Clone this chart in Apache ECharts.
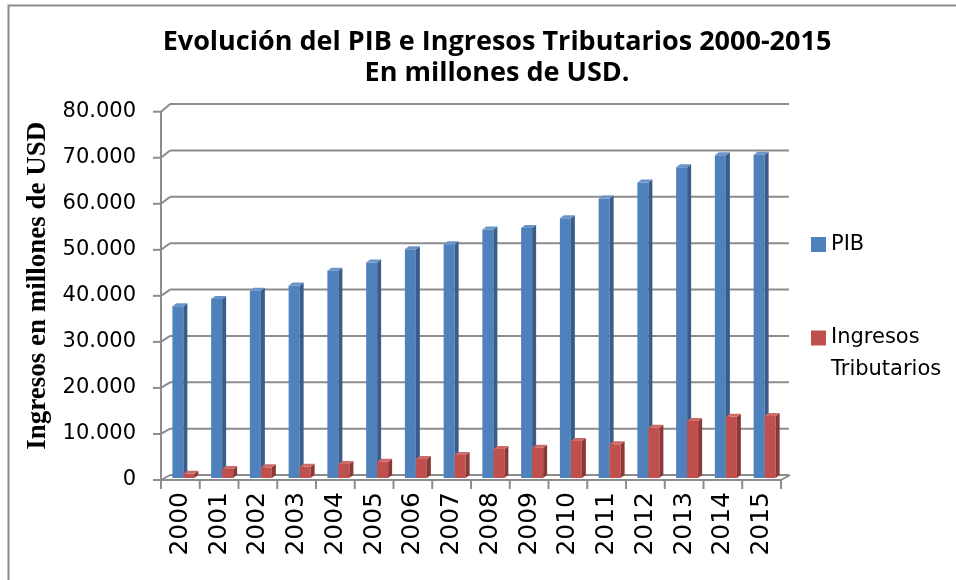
<!DOCTYPE html>
<html>
<head>
<meta charset="utf-8">
<script src="https://cdn.jsdelivr.net/npm/echarts@6/dist/echarts.min.js"></script>
<style>html,body{margin:0;padding:0;background:#fff}#c{width:956px;height:580px}</style>
</head>
<body>
<div id="c"></div>
<script>
const years = ['2000','2001','2002','2003','2004','2005','2006','2007','2008','2009','2010','2011','2012','2013','2014','2015'];
const pib = [37300, 38900, 40700, 41800, 45000, 46800, 49700, 50800, 54000, 54300, 56400, 60700, 64200, 67500, 70100, 70200];
const ingresos = [900, 1950, 2320, 2450, 3040, 3540, 4130, 4990, 6300, 6580, 8030, 7320, 10920, 12380, 13310, 13460];
const yTicks = [0, 10000, 20000, 30000, 40000, 50000, 60000, 70000, 80000];

const chart = echarts.init(document.getElementById('c'), null, {renderer: 'canvas'});
const GRID = '#8c8c8c';

function barRenderer(offset, front, side, topc) {
  return function (params, api) {
    const idx = api.value(0), v = api.value(1);
    const t = api.coord([idx, v]);
    const b = api.coord([idx, 0]);
    const w = 11, d = 4, e = 3;
    const x0 = t[0] + offset;
    const yT = t[1] - 2, yB = b[1] - 2;
    return {
      type: 'group',
      children: [
        {type: 'rect', shape: {x: x0, y: yT, width: w, height: yB - yT}, style: {fill: front}},
        {type: 'polygon', shape: {points: [[x0 + w, yT], [x0 + w + d, yT - e], [x0 + w + d, yB - e], [x0 + w, yB]]}, style: {fill: side}},
        {type: 'polygon', shape: {points: [[x0, yT], [x0 + w, yT], [x0 + w + d, yT - e], [x0 + d, yT - e]]}, style: {fill: topc}}
      ]
    };
  };
}

function wallRenderer(params, api) {
  const v = api.value(1);
  const cs = params.coordSys;
  const L = cs.x, R = cs.x + cs.width;
  const fy = api.coord([0, v])[1];
  const y0 = api.coord([0, 0])[1];
  const by = y0 - 5 - (y0 - fy) * 1.007;
  const ls = {stroke: GRID, lineWidth: 2};
  const ch = [
    {type: 'line', shape: {x1: L + 9, y1: by, x2: R + 8, y2: by}, style: ls},
    {type: 'line', shape: {x1: L, y1: fy, x2: L + 9, y2: by}, style: ls},
    {type: 'line', shape: {x1: L - 8, y1: fy, x2: L, y2: fy}, style: ls}
  ];
  if (v === 0) {
    const yTop = api.coord([0, yTicks[yTicks.length - 1]])[1];
    ch.push({type: 'line', shape: {x1: L, y1: yTop, x2: L, y2: y0}, style: ls});
    ch.push({type: 'line', shape: {x1: L, y1: y0, x2: R, y2: y0}, style: ls});
    ch.push({type: 'line', shape: {x1: R, y1: y0, x2: R + 9, y2: by}, style: ls});
    const cw = cs.width / years.length;
    for (let k = 0; k <= years.length; k++) {
      const x = L + k * cw;
      ch.push({type: 'line', shape: {x1: x, y1: y0, x2: x, y2: y0 + 9}, style: ls});
    }
  }
  return {type: 'group', children: ch};
}

const option = {
  backgroundColor: '#fff',
  animation: false,
  title: {
    text: 'Evolución del PIB e Ingresos Tributarios 2000-2015\nEn millones de USD.',
    left: 492, top: 22, textAlign: 'center',
    textStyle: {fontFamily: 'Open Sans', fontWeight: 'bold', fontSize: 27, lineHeight: 31, color: '#000'}
  },
  legend: [
    {
      data: ['PIB'], orient: 'vertical', left: 806, top: 229,
      itemWidth: 15, itemHeight: 15, icon: 'rect',
      textStyle: {fontFamily: 'DejaVu Sans', fontSize: 21, color: '#000'}
    },
    {
      data: ['Ingresos Tributarios'], orient: 'vertical', left: 806, top: 317,
      itemWidth: 15, itemHeight: 47,
      icon: 'path://M0,0L15,0L15,15L0,15Z M0,47L0.01,47',
      formatter: function () { return 'Ingresos\nTributarios'; },
      textStyle: {fontFamily: 'DejaVu Sans', fontSize: 21, lineHeight: 32, color: '#000'}
    }
  ],
  grid: {left: 161, right: 175, top: 111.7, bottom: 100},
  xAxis: {
    type: 'category', data: years,
    axisLine: {show: false}, axisTick: {show: false}, splitLine: {show: false},
    axisLabel: {rotate: 90, margin: 12, fontFamily: 'DejaVu Sans', fontSize: 25, color: '#000', interval: 0}
  },
  yAxis: {
    type: 'value', min: 0, max: 80000, interval: 10000,
    name: 'Ingresos en millones de USD', nameLocation: 'middle', nameRotate: 90, nameGap: 106,
    nameTextStyle: {fontFamily: 'Liberation Serif', fontWeight: 'bold', fontSize: 27, color: '#000', padding: [0, 0, 0, 20]},
    axisLine: {show: false}, axisTick: {show: false}, splitLine: {show: false},
    axisLabel: {
      margin: 25, fontFamily: 'DejaVu Sans', fontSize: 21, color: '#000',
      verticalAlign: 'middle', padding: [12, 0, 0, 0],
      formatter: function (v) { return v === 0 ? '0' : (v / 1000).toFixed(0) + '.000'; }
    }
  },
  graphic: [
    {type: 'rect', shape: {x: 8.5, y: 5.5, width: 2000, height: 2000}, style: {fill: 'none', stroke: GRID, lineWidth: 2}, z: -1}
  ],
  series: [
    {
      type: 'custom', name: 'walls', silent: true,
      data: yTicks.map(function (v) { return [0, v]; }),
      renderItem: wallRenderer, z: 1
    },
    {
      type: 'custom', name: 'PIB',
      itemStyle: {color: '#4F81BD'},
      data: pib.map(function (v, i) { return [i, v]; }),
      renderItem: barRenderer(-8, '#4F81BD', '#385D8A', '#6A93C8'), z: 2
    },
    {
      type: 'custom', name: 'Ingresos Tributarios',
      itemStyle: {color: '#C0504D'},
      data: ingresos.map(function (v, i) { return [i, v]; }),
      renderItem: barRenderer(3, '#C0504D', '#8C3836', '#CD6B69'), z: 3
    }
  ]
};
chart.setOption(option);
</script>
</body>
</html>
